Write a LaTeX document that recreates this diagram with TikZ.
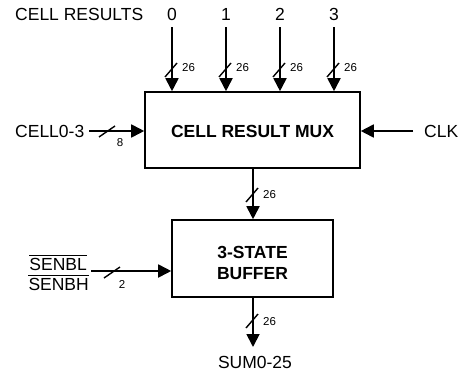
\documentclass[tikz,border=0pt]{standalone}
\usepackage{fontspec}
\setmainfont{Liberation Sans}
\usetikzlibrary{arrows.meta}
\begin{document}
\begin{tikzpicture}[x=1pt,y=-1pt,
  lab/.style={font=\fontsize{17.5}{19}\selectfont, inner sep=0pt},
  blab/.style={font=\fontsize{17.5}{21}\selectfont\bfseries, inner sep=0pt, align=center},
  small/.style={font=\fontsize{11.5}{12}\selectfont, inner sep=0pt},
  sig/.style={line width=1.8pt, -{Triangle[length=13pt,width=13pt]}},
  ovl/.style={line width=1pt},
  vslash/.pic={\draw[line width=1.4pt] (-7,7) -- (5,-7);},
  hslash/.pic={\draw[line width=1.4pt] (-8,6) -- (8,-5);}]
\useasboundingbox (0,0) rectangle (465,372);
% labels
\node[lab, anchor=west] (cr) at (15,14) {CELL RESULTS};
\node[lab] (l0) at (172,14) {0};
\node[lab] (l1) at (226,14) {1};
\node[lab] (l2) at (280,14) {2};
\node[lab] (l3) at (334,14) {3};
% mux
\node[draw, line width=1.6pt, minimum width=215pt, minimum height=76pt, inner sep=0pt] (mux) at (252.5,130) {};
\node[blab] (muxt) at (252.5,131) {CELL RESULT MUX};
% buffer
\node[draw, line width=1.6pt, minimum width=161pt, minimum height=77pt, inner sep=0pt] (buf) at (252.5,258.5) {};
\node[blab] (buft) at (252.5,263) {3-STATE\\BUFFER};
% inputs top
\foreach \i/\x in {0/172,1/226,2/280,3/334}{
  \draw[sig] (l\i.south) ++(0,7) -- (l\i.south |- mux.north);
  \pic at (\x,70) {vslash};
  \node[small, anchor=west] at (\x+10,68) {26};
}
% CELL0-3
\node[lab, anchor=west] (c03) at (15,131) {CELL0-3};
\draw[sig] (c03.east) ++(5,0) -- (mux.west |- c03.east);
\pic at (107,131) {hslash};
\node[small] at (120,143) {8};
% CLK
\node[lab, anchor=west] (clk) at (424,131) {CLK};
\draw[sig] (clk.west) ++(-11,0) -- (mux.east |- clk.west);
% mux -> buf
\draw[sig] (mux.south -| 253,0) -- (buf.north -| 253,0);
\pic at (253,195) {vslash};
\node[small, anchor=west] at (263,195) {26};
% SENBL/SENBH
\node[lab, anchor=east] (senbl) at (87,264) {SENBL};
\node[lab, anchor=east] (senbh) at (89,284) {SENBH};
\draw[ovl] ([yshift=2pt]senbl.north west) -- ([yshift=2pt]senbl.north east);
\draw[ovl] ([yshift=2pt]senbh.north west) -- ([yshift=2pt]senbh.north east);
\coordinate (sen) at (91,271);
\draw[sig] (sen) -- (buf.west |- sen);
\pic at (112,272) {hslash};
\node[small] at (122,284) {2};
% output
\node[lab] (sum) at (255,362) {SUM0-25};
\draw[sig] (buf.south -| 253,0) -- (253,347);
\pic at (253,321) {vslash};
\node[small, anchor=west] at (263,322) {26};
\end{tikzpicture}
\end{document}
